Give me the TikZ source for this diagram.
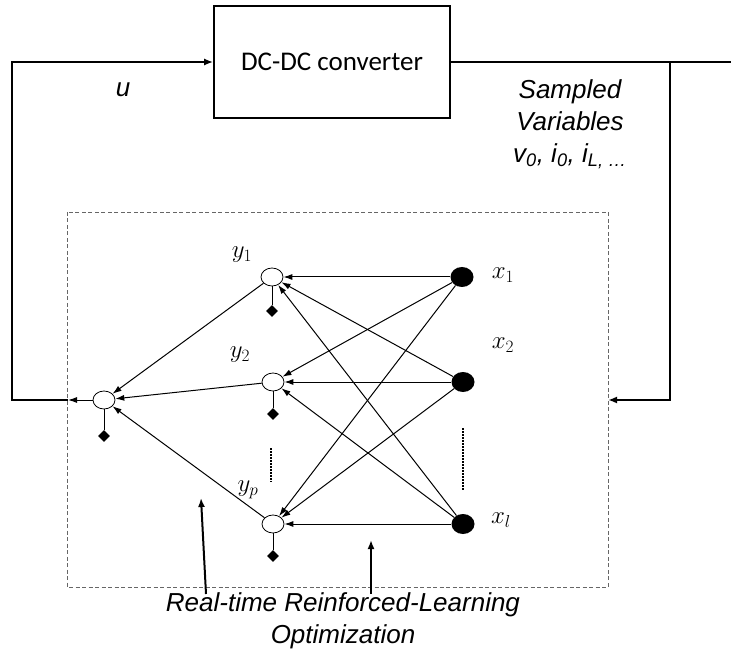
\documentclass[tikz,border=0pt]{standalone}
\usepackage{fontspec}
\setmainfont{Liberation Sans}
\newfontfamily\boxfont{Carlito}
\usetikzlibrary{arrows.meta,shapes.geometric}
\tikzset{
    hid/.style={draw,ellipse,fill=white,line width=0.8pt,minimum width=22,minimum height=18,inner sep=0},
    inp/.style={fill=black,ellipse,minimum width=23,minimum height=20,inner sep=0},
    bias/.style={fill=black,diamond,minimum size=12,inner sep=0},
    wt/.style={-{Latex[length=9pt,width=6pt]},line width=1pt},
    fb/.style={-{Latex[length=9pt,width=7pt]},line width=2.2pt},
    lbl/.style={font=\fontsize{24}{28}\selectfont},
    txt/.style={font=\fontsize{26}{32}\selectfont\itshape,align=center},
}

\begin{document}
\begin{tikzpicture}[x=1pt,y=-1pt]
\useasboundingbox (0,0) rectangle (731,660);
\node[draw,line width=1.6pt,minimum width=236,minimum height=112,font=\fontsize{27}{30}\selectfont\boxfont] (conv) at (332,62) {DC-DC converter};
\draw[dashed,gray!80!black,line width=0.9pt,dash pattern=on 4pt off 2.5pt] (67,212) rectangle (608,587);
\coordinate (tl) at (12,62);
\coordinate (bl) at (12,400);
\coordinate (inl) at (68,400);
\coordinate (tr) at (670,62);
\coordinate (br) at (670,400);
\coordinate (inr) at (608,400);
\coordinate (edge) at (731,62);
\node[hid] (y1) at (272,277) {};
\node[hid] (y2) at (273,382) {};
\node[hid] (yp) at (273,524) {};
\node[hid] (out) at (104,400) {};
\node[inp] (x1) at (462,277) {};
\node[inp] (x2) at (463,382) {};
\node[inp] (xl) at (463,524) {};
\node[bias] (b1) at (272,311) {};
\node[bias] (b2) at (273,414) {};
\node[bias] (bp) at (273,556) {};
\node[bias] (bo) at (104,436) {};
\foreach \s in {x1,x2,xl}
  \foreach \t in {y1,y2,yp}
    \draw[wt] (\s) -- (\t);
\foreach \t in {y1,y2,yp}
  \draw[wt] (\t) -- (out);
\foreach \n/\b in {y1/b1,y2/b2,yp/bp,out/bo}
  \draw[line width=1pt] (\n) -- (\b);
\draw[wt] (out) -- (inl);
\draw[fb] (inl) -- (bl) -- (tl) -- (conv);
\draw[line width=2.2pt] (conv) -- (edge);
\draw[fb] (tr) -- (br) -- (inr);
\draw[line width=2pt,dash pattern=on 1.5pt off 1.5pt] (271,448) -- (271,482);
\draw[line width=2pt,dash pattern=on 1.5pt off 1.5pt] (463,428) -- (463,490);
\node[lbl] (ly1) at (242,255) {$y_1$};
\node[lbl] (ly2) at (240,355) {$y_2$};
\node[lbl] (lyp) at (248,490) {$y_p$};
\node[lbl] (lx1) at (503,275) {$x_1$};
\node[lbl] (lx2) at (503,345) {$x_2$};
\node[lbl] (lxl) at (501,520) {$x_l$};
\node[txt] (u) at (123,90) {u};
\node[txt] (samp) at (570,124) {Sampled\\Variables\\v\textsubscript{0}, i\textsubscript{0}, i\textsubscript{L, \dots}};
\node[txt] (rl) at (343,621) {Real-time Reinforced-Learning\\Optimization};
\coordinate (a1) at (206,594);
\coordinate (a2) at (371,594);
\draw[fb,line width=2pt] (a1) -- (201,498);
\draw[fb,line width=2pt] (a2) -- (371,540);
\end{tikzpicture}
\end{document}
